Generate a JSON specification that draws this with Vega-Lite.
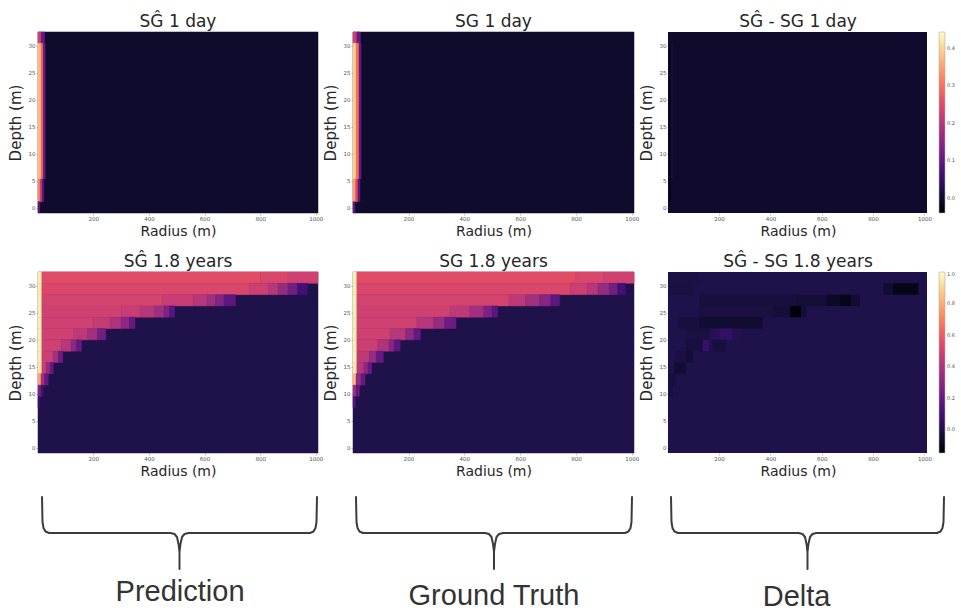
{
  "$schema": "https://vega.github.io/schema/vega-lite/v6.json",
  "background": "white",
  "padding": {"left": 8, "top": 12, "right": 0, "bottom": 0},
  "datasets": {
    "cells": [
      {"p":"a","r0":1,"r1":1008,"z0":-1,"z1":32.5,"v":0.08},
      {"p":"a","r0":1,"r1":13,"z0":30.41,"z1":32.5,"v":0.55},
      {"p":"a","r0":13,"r1":25,"z0":30.41,"z1":32.5,"v":0.3},
      {"p":"a","r0":1,"r1":12,"z0":5.28,"z1":30.41,"v":0.86},
      {"p":"a","r0":12,"r1":20,"z0":5.28,"z1":30.41,"v":0.68},
      {"p":"a","r0":20,"r1":27,"z0":5.28,"z1":30.41,"v":0.3},
      {"p":"a","r0":1,"r1":9,"z0":1.09,"z1":5.28,"v":0.75},
      {"p":"a","r0":9,"r1":16,"z0":1.09,"z1":5.28,"v":0.55},
      {"p":"a","r0":16,"r1":22,"z0":1.09,"z1":5.28,"v":0.28},
      {"p":"a","r0":1,"r1":7,"z0":-1,"z1":1.09,"v":0.3},

      {"p":"b","r0":1,"r1":1008,"z0":-1,"z1":32.5,"v":0.08},
      {"p":"b","r0":1,"r1":15,"z0":30.41,"z1":32.5,"v":0.55},
      {"p":"b","r0":15,"r1":28,"z0":30.41,"z1":32.5,"v":0.3},
      {"p":"b","r0":1,"r1":13,"z0":5.28,"z1":30.41,"v":0.9},
      {"p":"b","r0":13,"r1":23,"z0":5.28,"z1":30.41,"v":0.7},
      {"p":"b","r0":23,"r1":30,"z0":5.28,"z1":30.41,"v":0.3},
      {"p":"b","r0":1,"r1":11,"z0":1.09,"z1":5.28,"v":0.8},
      {"p":"b","r0":11,"r1":19,"z0":1.09,"z1":5.28,"v":0.6},
      {"p":"b","r0":19,"r1":26,"z0":1.09,"z1":5.28,"v":0.28},
      {"p":"b","r0":1,"r1":8,"z0":-1,"z1":1.09,"v":0.3},

      {"p":"c","r0":1,"r1":1010,"z0":-1,"z1":32.5,"v":0.0},
      {"p":"c","r0":5,"r1":12,"z0":1.09,"z1":30.41,"v":-0.02},
      {"p":"c","r0":12,"r1":22,"z0":5.28,"z1":30.41,"v":0.008},

      {"p":"d","r0":1,"r1":1008,"z0":-1,"z1":32.5,"v":0.13},
      {"p":"d","r0":1,"r1":15,"z0":30.41,"z1":32.5,"v":0.97},
      {"p":"d","r0":15,"r1":800,"z0":30.41,"z1":32.5,"v":0.61},
      {"p":"d","r0":800,"r1":900,"z0":30.41,"z1":32.5,"v":0.59},
      {"p":"d","r0":900,"r1":1008,"z0":30.41,"z1":32.5,"v":0.56},
      {"p":"d","r0":1,"r1":15,"z0":28.31,"z1":30.41,"v":0.97},
      {"p":"d","r0":15,"r1":760,"z0":28.31,"z1":30.41,"v":0.59},
      {"p":"d","r0":760,"r1":830,"z0":28.31,"z1":30.41,"v":0.55},
      {"p":"d","r0":830,"r1":865,"z0":28.31,"z1":30.41,"v":0.5},
      {"p":"d","r0":865,"r1":900,"z0":28.31,"z1":30.41,"v":0.42},
      {"p":"d","r0":900,"r1":935,"z0":28.31,"z1":30.41,"v":0.33},
      {"p":"d","r0":935,"r1":970,"z0":28.31,"z1":30.41,"v":0.22},
      {"p":"d","r0":1,"r1":15,"z0":26.22,"z1":28.31,"v":0.97},
      {"p":"d","r0":15,"r1":450,"z0":26.22,"z1":28.31,"v":0.57},
      {"p":"d","r0":450,"r1":560,"z0":26.22,"z1":28.31,"v":0.54},
      {"p":"d","r0":560,"r1":610,"z0":26.22,"z1":28.31,"v":0.5},
      {"p":"d","r0":610,"r1":640,"z0":26.22,"z1":28.31,"v":0.44},
      {"p":"d","r0":640,"r1":670,"z0":26.22,"z1":28.31,"v":0.37},
      {"p":"d","r0":670,"r1":712,"z0":26.22,"z1":28.31,"v":0.28},
      {"p":"d","r0":1,"r1":15,"z0":24.13,"z1":26.22,"v":0.97},
      {"p":"d","r0":15,"r1":300,"z0":24.13,"z1":26.22,"v":0.56},
      {"p":"d","r0":300,"r1":370,"z0":24.13,"z1":26.22,"v":0.54},
      {"p":"d","r0":370,"r1":420,"z0":24.13,"z1":26.22,"v":0.5},
      {"p":"d","r0":420,"r1":455,"z0":24.13,"z1":26.22,"v":0.44},
      {"p":"d","r0":455,"r1":475,"z0":24.13,"z1":26.22,"v":0.36},
      {"p":"d","r0":475,"r1":492,"z0":24.13,"z1":26.22,"v":0.27},
      {"p":"d","r0":1,"r1":15,"z0":22.03,"z1":24.13,"v":0.97},
      {"p":"d","r0":15,"r1":200,"z0":22.03,"z1":24.13,"v":0.56},
      {"p":"d","r0":200,"r1":260,"z0":22.03,"z1":24.13,"v":0.53},
      {"p":"d","r0":260,"r1":300,"z0":22.03,"z1":24.13,"v":0.48},
      {"p":"d","r0":300,"r1":330,"z0":22.03,"z1":24.13,"v":0.4},
      {"p":"d","r0":330,"r1":350,"z0":22.03,"z1":24.13,"v":0.3},
      {"p":"d","r0":1,"r1":15,"z0":19.94,"z1":22.03,"v":0.97},
      {"p":"d","r0":15,"r1":130,"z0":19.94,"z1":22.03,"v":0.56},
      {"p":"d","r0":130,"r1":180,"z0":19.94,"z1":22.03,"v":0.52},
      {"p":"d","r0":180,"r1":215,"z0":19.94,"z1":22.03,"v":0.45},
      {"p":"d","r0":215,"r1":245,"z0":19.94,"z1":22.03,"v":0.33},
      {"p":"d","r0":1,"r1":15,"z0":17.84,"z1":19.94,"v":0.97},
      {"p":"d","r0":15,"r1":85,"z0":17.84,"z1":19.94,"v":0.56},
      {"p":"d","r0":85,"r1":120,"z0":17.84,"z1":19.94,"v":0.5},
      {"p":"d","r0":120,"r1":140,"z0":17.84,"z1":19.94,"v":0.4},
      {"p":"d","r0":140,"r1":158,"z0":17.84,"z1":19.94,"v":0.3},
      {"p":"d","r0":1,"r1":15,"z0":15.75,"z1":17.84,"v":0.97},
      {"p":"d","r0":15,"r1":55,"z0":15.75,"z1":17.84,"v":0.55},
      {"p":"d","r0":55,"r1":75,"z0":15.75,"z1":17.84,"v":0.45},
      {"p":"d","r0":75,"r1":90,"z0":15.75,"z1":17.84,"v":0.32},
      {"p":"d","r0":1,"r1":15,"z0":13.66,"z1":15.75,"v":0.95},
      {"p":"d","r0":15,"r1":30,"z0":13.66,"z1":15.75,"v":0.55},
      {"p":"d","r0":30,"r1":45,"z0":13.66,"z1":15.75,"v":0.42},
      {"p":"d","r0":45,"r1":56,"z0":13.66,"z1":15.75,"v":0.3},
      {"p":"d","r0":1,"r1":12,"z0":11.56,"z1":13.66,"v":0.8},
      {"p":"d","r0":12,"r1":25,"z0":11.56,"z1":13.66,"v":0.45},
      {"p":"d","r0":25,"r1":38,"z0":11.56,"z1":13.66,"v":0.3},
      {"p":"d","r0":1,"r1":12,"z0":9.47,"z1":11.56,"v":0.35},
      {"p":"d","r0":12,"r1":20,"z0":9.47,"z1":11.56,"v":0.22},
      {"p":"d","r0":1,"r1":8,"z0":7.38,"z1":9.47,"v":0.2},

      {"p":"e","r0":1,"r1":1008,"z0":-1,"z1":32.5,"v":0.13},
      {"p":"e","r0":1,"r1":15,"z0":30.41,"z1":32.5,"v":0.97},
      {"p":"e","r0":15,"r1":800,"z0":30.41,"z1":32.5,"v":0.61},
      {"p":"e","r0":800,"r1":900,"z0":30.41,"z1":32.5,"v":0.59},
      {"p":"e","r0":900,"r1":1008,"z0":30.41,"z1":32.5,"v":0.56},
      {"p":"e","r0":1,"r1":15,"z0":28.31,"z1":30.41,"v":0.97},
      {"p":"e","r0":15,"r1":780,"z0":28.31,"z1":30.41,"v":0.59},
      {"p":"e","r0":780,"r1":840,"z0":28.31,"z1":30.41,"v":0.55},
      {"p":"e","r0":840,"r1":880,"z0":28.31,"z1":30.41,"v":0.5},
      {"p":"e","r0":880,"r1":920,"z0":28.31,"z1":30.41,"v":0.42},
      {"p":"e","r0":920,"r1":950,"z0":28.31,"z1":30.41,"v":0.33},
      {"p":"e","r0":950,"r1":978,"z0":28.31,"z1":30.41,"v":0.22},
      {"p":"e","r0":1,"r1":15,"z0":26.22,"z1":28.31,"v":0.97},
      {"p":"e","r0":15,"r1":560,"z0":26.22,"z1":28.31,"v":0.57},
      {"p":"e","r0":560,"r1":620,"z0":26.22,"z1":28.31,"v":0.52},
      {"p":"e","r0":620,"r1":670,"z0":26.22,"z1":28.31,"v":0.45},
      {"p":"e","r0":670,"r1":710,"z0":26.22,"z1":28.31,"v":0.38},
      {"p":"e","r0":710,"r1":742,"z0":26.22,"z1":28.31,"v":0.28},
      {"p":"e","r0":1,"r1":15,"z0":24.13,"z1":26.22,"v":0.97},
      {"p":"e","r0":15,"r1":350,"z0":24.13,"z1":26.22,"v":0.56},
      {"p":"e","r0":350,"r1":420,"z0":24.13,"z1":26.22,"v":0.52},
      {"p":"e","r0":420,"r1":470,"z0":24.13,"z1":26.22,"v":0.45},
      {"p":"e","r0":470,"r1":500,"z0":24.13,"z1":26.22,"v":0.36},
      {"p":"e","r0":500,"r1":520,"z0":24.13,"z1":26.22,"v":0.27},
      {"p":"e","r0":1,"r1":15,"z0":22.03,"z1":24.13,"v":0.97},
      {"p":"e","r0":15,"r1":230,"z0":22.03,"z1":24.13,"v":0.56},
      {"p":"e","r0":230,"r1":290,"z0":22.03,"z1":24.13,"v":0.5},
      {"p":"e","r0":290,"r1":330,"z0":22.03,"z1":24.13,"v":0.42},
      {"p":"e","r0":330,"r1":370,"z0":22.03,"z1":24.13,"v":0.32},
      {"p":"e","r0":1,"r1":15,"z0":19.94,"z1":22.03,"v":0.97},
      {"p":"e","r0":15,"r1":135,"z0":19.94,"z1":22.03,"v":0.56},
      {"p":"e","r0":135,"r1":190,"z0":19.94,"z1":22.03,"v":0.5},
      {"p":"e","r0":190,"r1":220,"z0":19.94,"z1":22.03,"v":0.4},
      {"p":"e","r0":220,"r1":243,"z0":19.94,"z1":22.03,"v":0.3},
      {"p":"e","r0":1,"r1":15,"z0":17.84,"z1":19.94,"v":0.97},
      {"p":"e","r0":15,"r1":90,"z0":17.84,"z1":19.94,"v":0.55},
      {"p":"e","r0":90,"r1":130,"z0":17.84,"z1":19.94,"v":0.48},
      {"p":"e","r0":130,"r1":150,"z0":17.84,"z1":19.94,"v":0.38},
      {"p":"e","r0":150,"r1":170,"z0":17.84,"z1":19.94,"v":0.28},
      {"p":"e","r0":1,"r1":15,"z0":15.75,"z1":17.84,"v":0.97},
      {"p":"e","r0":15,"r1":60,"z0":15.75,"z1":17.84,"v":0.52},
      {"p":"e","r0":60,"r1":85,"z0":15.75,"z1":17.84,"v":0.42},
      {"p":"e","r0":85,"r1":110,"z0":15.75,"z1":17.84,"v":0.3},
      {"p":"e","r0":1,"r1":15,"z0":13.66,"z1":15.75,"v":0.95},
      {"p":"e","r0":15,"r1":40,"z0":13.66,"z1":15.75,"v":0.5},
      {"p":"e","r0":40,"r1":55,"z0":13.66,"z1":15.75,"v":0.4},
      {"p":"e","r0":55,"r1":68,"z0":13.66,"z1":15.75,"v":0.3},
      {"p":"e","r0":1,"r1":12,"z0":11.56,"z1":13.66,"v":0.85},
      {"p":"e","r0":12,"r1":30,"z0":11.56,"z1":13.66,"v":0.42},
      {"p":"e","r0":30,"r1":44,"z0":11.56,"z1":13.66,"v":0.3},
      {"p":"e","r0":1,"r1":12,"z0":9.47,"z1":11.56,"v":0.45},
      {"p":"e","r0":12,"r1":25,"z0":9.47,"z1":11.56,"v":0.3},
      {"p":"e","r0":1,"r1":10,"z0":7.38,"z1":9.47,"v":0.25},

      {"p":"f","r0":1,"r1":1010,"z0":-1,"z1":32.5,"v":0.0},
      {"p":"f","r0":5,"r1":120,"z0":30.41,"z1":32.5,"v":-0.01},
      {"p":"f","r0":5,"r1":100,"z0":28.31,"z1":30.41,"v":-0.015},
      {"p":"f","r0":840,"r1":878,"z0":28.31,"z1":30.41,"v":-0.05},
      {"p":"f","r0":878,"r1":976,"z0":28.31,"z1":30.41,"v":-0.1},
      {"p":"f","r0":123,"r1":500,"z0":26.22,"z1":28.31,"v":-0.02},
      {"p":"f","r0":500,"r1":618,"z0":26.22,"z1":28.31,"v":-0.035},
      {"p":"f","r0":618,"r1":670,"z0":26.22,"z1":28.31,"v":-0.07},
      {"p":"f","r0":670,"r1":715,"z0":26.22,"z1":28.31,"v":-0.1},
      {"p":"f","r0":715,"r1":748,"z0":26.22,"z1":28.31,"v":-0.05},
      {"p":"f","r0":123,"r1":410,"z0":24.13,"z1":26.22,"v":-0.015},
      {"p":"f","r0":410,"r1":477,"z0":24.13,"z1":26.22,"v":-0.03},
      {"p":"f","r0":477,"r1":520,"z0":24.13,"z1":26.22,"v":-0.14},
      {"p":"f","r0":520,"r1":540,"z0":24.13,"z1":26.22,"v":-0.04},
      {"p":"f","r0":40,"r1":123,"z0":22.03,"z1":24.13,"v":-0.02},
      {"p":"f","r0":123,"r1":370,"z0":22.03,"z1":24.13,"v":-0.05},
      {"p":"f","r0":71,"r1":162,"z0":19.94,"z1":22.03,"v":-0.015},
      {"p":"f","r0":162,"r1":201,"z0":19.94,"z1":22.03,"v":0.02},
      {"p":"f","r0":201,"r1":253,"z0":19.94,"z1":22.03,"v":0.06},
      {"p":"f","r0":253,"r1":292,"z0":19.94,"z1":22.03,"v":0.015},
      {"p":"f","r0":71,"r1":136,"z0":17.84,"z1":19.94,"v":-0.02},
      {"p":"f","r0":136,"r1":162,"z0":17.84,"z1":19.94,"v":0.07},
      {"p":"f","r0":175,"r1":227,"z0":17.84,"z1":19.94,"v":-0.02},
      {"p":"f","r0":31,"r1":71,"z0":15.75,"z1":17.84,"v":-0.015},
      {"p":"f","r0":71,"r1":97,"z0":15.75,"z1":17.84,"v":-0.04},
      {"p":"f","r0":26,"r1":71,"z0":13.66,"z1":15.75,"v":-0.045},
      {"p":"f","r0":5,"r1":31,"z0":11.56,"z1":13.66,"v":-0.025},
      {"p":"f","r0":5,"r1":20,"z0":9.47,"z1":11.56,"v":-0.02}
    ],
    "brace": [
      {"o":1,"u":0,"y":-15},
      {"o":2,"u":0.0018,"y":10},
      {"o":3,"u":0.0055,"y":16},
      {"o":4,"u":0.0127,"y":19.5},
      {"o":5,"u":0.0255,"y":21},
      {"o":6,"u":0.4673,"y":21},
      {"o":7,"u":0.4818,"y":22},
      {"o":8,"u":0.4909,"y":25},
      {"o":9,"u":0.4964,"y":32},
      {"o":10,"u":0.5,"y":40},
      {"o":11,"u":0.5,"y":57},
      {"o":12,"u":0.5,"y":40},
      {"o":13,"u":0.5036,"y":32},
      {"o":14,"u":0.5091,"y":25},
      {"o":15,"u":0.5182,"y":22},
      {"o":16,"u":0.5327,"y":21},
      {"o":17,"u":0.9745,"y":21},
      {"o":18,"u":0.9873,"y":19.5},
      {"o":19,"u":0.9945,"y":16},
      {"o":20,"u":0.9982,"y":10},
      {"o":21,"u":1,"y":-15}
    ]
  },
  "config": {
    "font": "DejaVu Sans",
    "view": {"stroke": null},
    "title": {"font": "DejaVu Sans", "fontSize": 17, "fontWeight": "normal", "color": "#262626", "anchor": "middle", "offset": 1},
    "axis": {"domain": false, "grid": false, "tickSize": 2, "tickWidth": 0.6, "tickColor": "#9a9a9a", "labelFontSize": 5.5, "labelColor": "#555555", "labelPadding": 1, "labelFont": "DejaVu Sans", "titleFont": "DejaVu Sans", "titleFontWeight": "normal", "titleColor": "#262626"},
    "axisX": {"titleFontSize": 14, "titlePadding": 3, "labelAngle": 0},
    "axisY": {"titleFontSize": 15, "titlePadding": 5, "labelAngle": 0}
  },
  "columns": 3,
  "spacing": {"row": 59, "column": 35},
  "bounds": "flush",
  "resolve": {"scale": {"color": "independent", "stroke": "independent", "x": "independent", "y": "independent"}, "legend": {"color": "independent"}},
  "concat": [
    {
      "width": 280, "height": 181,
      "title": "SĜ 1 day",
      "data": {"name": "cells"},
      "transform": [{"filter": "datum.p == 'a'"}],
      "mark": {"type": "rect", "strokeWidth": 0.5},
      "encoding": {
        "x": {"field": "r0", "type": "quantitative", "scale": {"domain": [1, 1008], "nice": false, "zero": false}, "axis": {"title": "Radius (m)", "values": [200, 400, 600, 800, 1000], "format": "d"}},
        "x2": {"field": "r1"},
        "y": {"field": "z0", "type": "quantitative", "scale": {"domain": [-1, 32.5], "nice": false, "zero": false}, "axis": {"title": "Depth (m)", "values": [0, 5, 10, 15, 20, 25, 30], "format": "d"}},
        "y2": {"field": "z1"},
        "color": {"field": "v", "type": "quantitative", "scale": {"scheme": "magma", "domain": [0, 1]}, "legend": null},
        "stroke": {"field": "v", "type": "quantitative", "scale": {"scheme": "magma", "domain": [0, 1]}, "legend": null}
      }
    },
    {
      "width": 281, "height": 181,
      "title": "SG 1 day",
      "data": {"name": "cells"},
      "transform": [{"filter": "datum.p == 'b'"}],
      "mark": {"type": "rect", "strokeWidth": 0.5},
      "encoding": {
        "x": {"field": "r0", "type": "quantitative", "scale": {"domain": [1, 1008], "nice": false, "zero": false}, "axis": {"title": "Radius (m)", "values": [200, 400, 600, 800, 1000], "format": "d"}},
        "x2": {"field": "r1"},
        "y": {"field": "z0", "type": "quantitative", "scale": {"domain": [-1, 32.5], "nice": false, "zero": false}, "axis": {"title": "Depth (m)", "values": [0, 5, 10, 15, 20, 25, 30], "format": "d"}},
        "y2": {"field": "z1"},
        "color": {"field": "v", "type": "quantitative", "scale": {"scheme": "magma", "domain": [0, 1]}, "legend": null},
        "stroke": {"field": "v", "type": "quantitative", "scale": {"scheme": "magma", "domain": [0, 1]}, "legend": null}
      }
    },
    {
      "width": 258, "height": 181,
      "title": "SĜ - SG 1 day",
      "data": {"name": "cells"},
      "transform": [{"filter": "datum.p == 'c'"}],
      "mark": {"type": "rect", "strokeWidth": 0},
      "encoding": {
        "x": {"field": "r0", "type": "quantitative", "scale": {"domain": [5, 1010], "nice": false, "zero": false}, "axis": {"title": "Radius (m)", "values": [200, 400, 600, 800, 1000], "format": "d"}},
        "x2": {"field": "r1"},
        "y": {"field": "z0", "type": "quantitative", "scale": {"domain": [-1, 32.5], "nice": false, "zero": false}, "axis": {"title": "Depth (m)", "values": [0, 5, 10, 15, 20, 25, 30], "format": "d"}},
        "y2": {"field": "z1"},
        "color": {"field": "v", "type": "quantitative", "scale": {"scheme": "magma", "domain": [-0.04, 0.442], "nice": false, "zero": false},
          "legend": {"type": "gradient", "orient": "right", "offset": 12, "padding": 0, "title": null, "gradientLength": 181, "gradientThickness": 6, "labelFontSize": 5, "labelColor": "#555555", "labelOffset": 2, "values": [0, 0.1, 0.2, 0.3, 0.4], "format": ".1f", "gradientStrokeColor": "#b0b0b0", "gradientStrokeWidth": 0.6}}
      }
    },
    {
      "width": 280, "height": 181,
      "title": "SĜ 1.8 years",
      "data": {"name": "cells"},
      "transform": [{"filter": "datum.p == 'd'"}],
      "mark": {"type": "rect", "strokeWidth": 0.5},
      "encoding": {
        "x": {"field": "r0", "type": "quantitative", "scale": {"domain": [1, 1008], "nice": false, "zero": false}, "axis": {"title": "Radius (m)", "values": [200, 400, 600, 800, 1000], "format": "d"}},
        "x2": {"field": "r1"},
        "y": {"field": "z0", "type": "quantitative", "scale": {"domain": [-1, 32.5], "nice": false, "zero": false}, "axis": {"title": "Depth (m)", "values": [0, 5, 10, 15, 20, 25, 30], "format": "d"}},
        "y2": {"field": "z1"},
        "color": {"field": "v", "type": "quantitative", "scale": {"scheme": "magma", "domain": [0, 1]}, "legend": null},
        "stroke": {"field": "v", "type": "quantitative", "scale": {"scheme": "magma", "domain": [0, 1]}, "legend": null}
      }
    },
    {
      "width": 281, "height": 181,
      "title": "SG 1.8 years",
      "data": {"name": "cells"},
      "transform": [{"filter": "datum.p == 'e'"}],
      "mark": {"type": "rect", "strokeWidth": 0.5},
      "encoding": {
        "x": {"field": "r0", "type": "quantitative", "scale": {"domain": [1, 1008], "nice": false, "zero": false}, "axis": {"title": "Radius (m)", "values": [200, 400, 600, 800, 1000], "format": "d"}},
        "x2": {"field": "r1"},
        "y": {"field": "z0", "type": "quantitative", "scale": {"domain": [-1, 32.5], "nice": false, "zero": false}, "axis": {"title": "Depth (m)", "values": [0, 5, 10, 15, 20, 25, 30], "format": "d"}},
        "y2": {"field": "z1"},
        "color": {"field": "v", "type": "quantitative", "scale": {"scheme": "magma", "domain": [0, 1]}, "legend": null},
        "stroke": {"field": "v", "type": "quantitative", "scale": {"scheme": "magma", "domain": [0, 1]}, "legend": null}
      }
    },
    {
      "width": 258, "height": 181,
      "title": "SĜ - SG 1.8 years",
      "data": {"name": "cells"},
      "transform": [{"filter": "datum.p == 'f'"}],
      "mark": {"type": "rect", "strokeWidth": 0},
      "encoding": {
        "x": {"field": "r0", "type": "quantitative", "scale": {"domain": [5, 1010], "nice": false, "zero": false}, "axis": {"title": "Radius (m)", "values": [200, 400, 600, 800, 1000], "format": "d"}},
        "x2": {"field": "r1"},
        "y": {"field": "z0", "type": "quantitative", "scale": {"domain": [-1, 32.5], "nice": false, "zero": false}, "axis": {"title": "Depth (m)", "values": [0, 5, 10, 15, 20, 25, 30], "format": "d"}},
        "y2": {"field": "z1"},
        "color": {"field": "v", "type": "quantitative", "scale": {"scheme": "magma", "domain": [-0.15, 1.0], "nice": false, "zero": false},
          "legend": {"type": "gradient", "orient": "right", "offset": 12, "padding": 0, "title": null, "gradientLength": 181, "gradientThickness": 6, "labelFontSize": 5, "labelColor": "#555555", "labelOffset": 2, "values": [0, 0.2, 0.4, 0.6, 0.8, 1.0], "format": ".1f", "gradientStrokeColor": "#b0b0b0", "gradientStrokeWidth": 0.6}}
      }
    },
    {
      "width": 280, "height": 100,
      "layer": [
        {
          "data": {"name": "brace"},
          "mark": {"type": "line", "stroke": "#3c3c3c", "strokeWidth": 2, "strokeJoin": "round", "strokeCap": "round"},
          "encoding": {
            "x": {"field": "u", "type": "quantitative", "scale": {"domain": [-0.01455, 1.00364], "nice": false, "zero": false}, "axis": null},
            "y": {"field": "y", "type": "quantitative", "scale": {"domain": [0, 100], "reverse": true, "nice": false, "zero": false}, "axis": null},
            "order": {"field": "o"}
          }
        },
        {
          "data": {"values": [{}]},
          "mark": {"type": "text", "font": "Liberation Sans", "fontSize": 29, "color": "#333333", "baseline": "middle", "align": "center"},
          "encoding": {
            "x": {"datum": 0.502, "type": "quantitative"},
            "y": {"datum": 80, "type": "quantitative"},
            "text": {"value": "Prediction"}
          }
        }
      ]
    },
    {
      "width": 281, "height": 100,
      "layer": [
        {
          "data": {"name": "brace"},
          "mark": {"type": "line", "stroke": "#3c3c3c", "strokeWidth": 2, "strokeJoin": "round", "strokeCap": "round"},
          "encoding": {
            "x": {"field": "u", "type": "quantitative", "scale": {"domain": [-0.01087, 1.00725], "nice": false, "zero": false}, "axis": null},
            "y": {"field": "y", "type": "quantitative", "scale": {"domain": [0, 100], "reverse": true, "nice": false, "zero": false}, "axis": null},
            "order": {"field": "o"}
          }
        },
        {
          "data": {"values": [{}]},
          "mark": {"type": "text", "font": "Liberation Sans", "fontSize": 29, "color": "#333333", "baseline": "middle", "align": "center"},
          "encoding": {
            "x": {"datum": 0.5, "type": "quantitative"},
            "y": {"datum": 84, "type": "quantitative"},
            "text": {"value": "Ground Truth"}
          }
        }
      ]
    },
    {
      "width": 258, "height": 100,
      "layer": [
        {
          "data": {"name": "brace"},
          "mark": {"type": "line", "stroke": "#3c3c3c", "strokeWidth": 2, "strokeJoin": "round", "strokeCap": "round"},
          "encoding": {
            "x": {"field": "u", "type": "quantitative", "scale": {"domain": [-0.00733, 0.93773], "nice": false, "zero": false}, "axis": null},
            "y": {"field": "y", "type": "quantitative", "scale": {"domain": [0, 100], "reverse": true, "nice": false, "zero": false}, "axis": null},
            "order": {"field": "o"}
          }
        },
        {
          "data": {"values": [{}]},
          "mark": {"type": "text", "font": "Liberation Sans", "fontSize": 29, "color": "#333333", "baseline": "middle", "align": "center"},
          "encoding": {
            "x": {"datum": 0.46, "type": "quantitative"},
            "y": {"datum": 85, "type": "quantitative"},
            "text": {"value": "Delta"}
          }
        }
      ]
    }
  ]
}
